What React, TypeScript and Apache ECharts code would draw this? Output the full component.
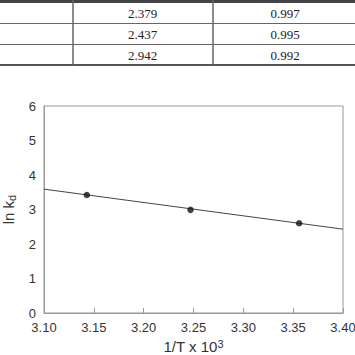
import React, { useEffect, useRef } from "react";
import * as echarts from "echarts";

const tableCol1 = ["2.379", "2.437", "2.942"];
const tableCol2 = ["0.997", "0.995", "0.992"];
const pointsX = [3.143, 3.247, 3.356];
const pointsY = [3.42, 2.99, 2.6];
const fitX = [3.1, 3.4];
const fitY = [3.59, 2.43];
const xMin = 3.1;
const xMax = 3.4;
const xStep = 0.05;
const yMin = 0;
const yMax = 6;
const yStep = 1;

export default function App() {
  const ref = useRef<HTMLDivElement>(null);
  useEffect(() => {
    if (!ref.current) return;
    const chart = echarts.init(ref.current, undefined, { renderer: "svg" });
    const rowY = [13, 34, 55];
    const tableGraphics: any[] = [];
    tableGraphics.push({ type: "line", shape: { x1: 0, y1: 1.5, x2: 355, y2: 1.5 }, style: { stroke: "#444", lineWidth: 3 } });
    [23, 44].forEach((y) =>
      tableGraphics.push({ type: "line", shape: { x1: 0, y1: y + 0.5, x2: 355, y2: y + 0.5 }, style: { stroke: "#666", lineWidth: 1 } })
    );
    tableGraphics.push({ type: "line", shape: { x1: 0, y1: 65, x2: 355, y2: 65 }, style: { stroke: "#555", lineWidth: 2 } });
    [73, 213].forEach((x) =>
      tableGraphics.push({ type: "line", shape: { x1: x, y1: 0, x2: x, y2: 65 }, style: { stroke: "#666", lineWidth: 1.5 } })
    );
    tableCol1.forEach((t, i) =>
      tableGraphics.push({
        type: "text",
        x: 142.5,
        y: rowY[i],
        style: { text: t, fill: "#222", font: "13px 'Liberation Serif'", align: "center", verticalAlign: "middle" },
      })
    );
    tableCol2.forEach((t, i) =>
      tableGraphics.push({
        type: "text",
        x: 285,
        y: rowY[i],
        style: { text: t, fill: "#222", font: "13px 'Liberation Serif'", align: "center", verticalAlign: "middle" },
      })
    );

    chart.setOption({
      animation: false,
      backgroundColor: "#fff",
      graphic: tableGraphics,
      grid: {
        left: 44,
        right: 12,
        top: 106,
        bottom: 42,
        show: true,
        borderColor: "#999",
        borderWidth: 1,
        containLabel: false,
        outerBoundsMode: "none",
      },
      xAxis: {
        type: "value",
        min: xMin,
        max: xMax,
        interval: xStep,
        name: "1/T x 10{sup|3}",
        nameLocation: "middle",
        nameGap: 25,
        nameTextStyle: {
          fontFamily: "Liberation Sans",
          fontSize: 15,
          color: "#333",
          lineHeight: 16,
          rich: {
            sup: { fontFamily: "Liberation Sans", fontSize: 11, lineHeight: 9, verticalAlign: "top", color: "#333" },
          },
        },
        axisLine: { lineStyle: { color: "#999", width: 1 } },
        axisTick: { show: true, inside: true, length: 5, lineStyle: { color: "#999" } },
        axisLabel: {
          formatter: (v: number) => v.toFixed(2),
          fontFamily: "Liberation Sans",
          fontSize: 13,
          color: "#333",
          margin: 8,
        },
        splitLine: { show: false },
      },
      yAxis: {
        type: "value",
        min: yMin,
        max: yMax,
        interval: yStep,
        name: "ln k{sub|d}",
        nameLocation: "middle",
        nameRotate: 90,
        nameGap: 25,
        nameTextStyle: {
          fontFamily: "Liberation Sans",
          fontSize: 15,
          color: "#333",
          lineHeight: 18,
          rich: {
            sub: { fontFamily: "Liberation Sans", fontSize: 11, lineHeight: 9, verticalAlign: "bottom", color: "#333" },
          },
        },
        axisLine: { show: true, lineStyle: { color: "#999", width: 1 } },
        axisTick: { show: false },
        axisLabel: { fontFamily: "Liberation Sans", fontSize: 13, color: "#333", margin: 8 },
        splitLine: { show: false },
      },
      series: [
        {
          type: "line",
          data: fitX.map((x, i) => [x, fitY[i]]),
          symbol: "none",
          lineStyle: { color: "#444", width: 1 },
          z: 2,
        },
        {
          type: "scatter",
          data: pointsX.map((x, i) => [x, pointsY[i]]),
          symbol: "circle",
          symbolSize: 6.5,
          itemStyle: { color: "#111" },
          z: 3,
        },
      ],
    });
    return () => chart.dispose();
  }, []);
  return <div ref={ref} style={{ position: "fixed", left: 0, top: 0, width: 355, height: 355 }} />;
}
